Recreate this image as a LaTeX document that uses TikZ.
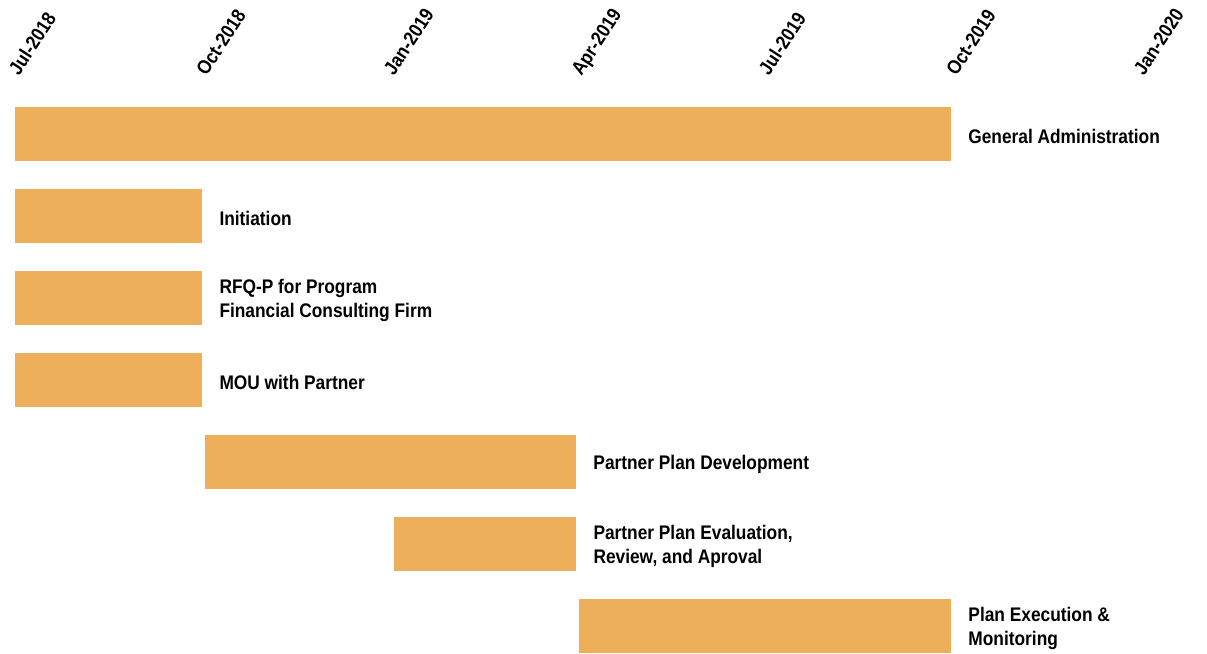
\documentclass[tikz,border=0pt]{standalone}
\usepackage{fontspec}
\newfontfamily\chartfont[FakeStretch=0.88]{Liberation Sans}
\usepackage{tikz}
\usetikzlibrary{positioning}

\definecolor{barorange}{HTML}{EEAF5A}

\begin{document}
\begin{tikzpicture}[x=0.02cm,y=-0.02cm,
    every node/.style={font=\chartfont\bfseries\fontsize{11.2}{13.6}\selectfont},
    taskbar/.style={fill=barorange,draw=none,inner sep=0pt,minimum height=1.08cm,anchor=north west},
    tasklabel/.style={anchor=west,align=left,inner sep=0pt,xshift=0.33cm,yshift=-0.04cm},
    datelbl/.style={anchor=base west,rotate=57,inner sep=0pt}]
  \useasboundingbox (0,0) rectangle (1207,653);

  % time axis
  \foreach \d [count=\i from 0] in {Jul-2018,Oct-2018,Jan-2019,Apr-2019,Jul-2019,Oct-2019,Jan-2020}
    \node[datelbl] (date\i) at ({19+187.5*\i},77) {\d};

  % tasks
  \node[taskbar,minimum width=18.72cm] (admin) at (15,107) {};
  \node[taskbar,minimum width=3.74cm] (init) at (15,189) {};
  \node[taskbar,minimum width=3.74cm] (rfqp) at (15,271) {};
  \node[taskbar,minimum width=3.74cm] (mou) at (15,353) {};
  \node[taskbar,minimum width=7.42cm] (ppdev) at (205,435) {};
  \node[taskbar,minimum width=3.64cm] (ppeval) at (394,517) {};
  \node[taskbar,minimum width=7.44cm] (exec) at (579,599) {};

  \node[tasklabel] (adminlbl) at (admin.east) {General Administration};
  \node[tasklabel] (initlbl) at (init.east) {Initiation};
  \node[tasklabel] (rfqplbl) at (rfqp.east) {RFQ-P for Program\\Financial Consulting Firm};
  \node[tasklabel] (moulbl) at (mou.east) {MOU with Partner};
  \node[tasklabel] (ppdevlbl) at (ppdev.east) {Partner Plan Development};
  \node[tasklabel] (ppevallbl) at (ppeval.east) {Partner Plan Evaluation,\\Review, and Aproval};
  \node[tasklabel] (execlbl) at (exec.east) {Plan Execution \&\\Monitoring};
\end{tikzpicture}
\end{document}
